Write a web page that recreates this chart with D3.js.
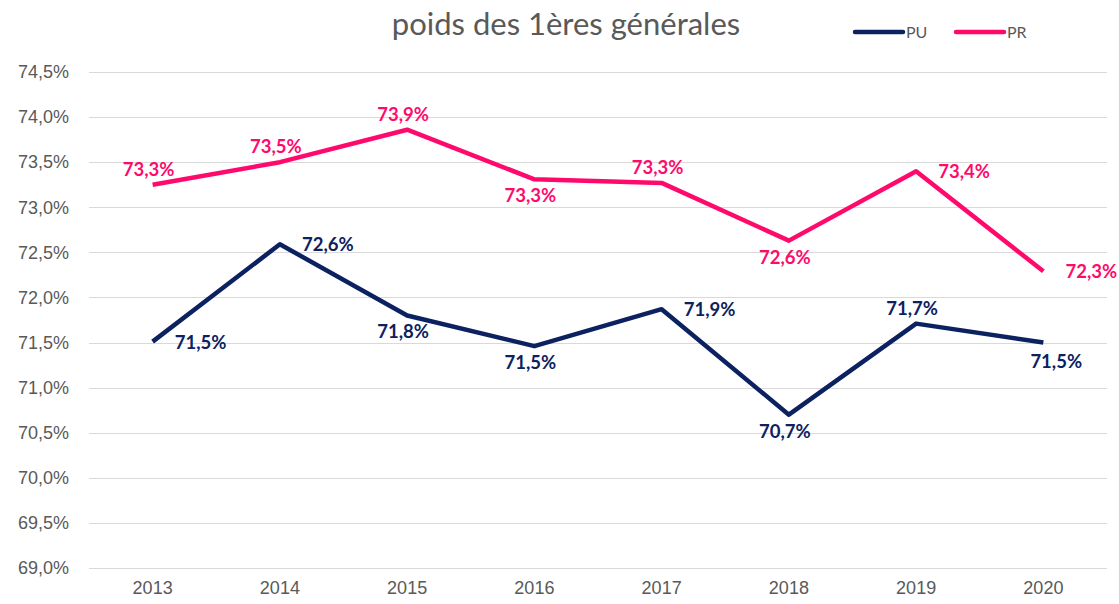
<!DOCTYPE html>
<html>
<head>
<meta charset="utf-8">
<script src="https://cdn.jsdelivr.net/npm/d3@7"></script>
<style>
body { margin: 0; background: #fff; }
svg { font-family: Lato, "Open Sans", sans-serif; }
</style>
</head>
<body>
<script>
//chart data
var years = ["2013", "2014", "2015", "2016", "2017", "2018", "2019", "2020"];
var puValues = [71.51, 72.59, 71.80, 71.46, 71.87, 70.70, 71.71, 71.50];
var prValues = [73.25, 73.50, 73.86, 73.31, 73.27, 72.63, 73.40, 72.29];
var puLabels = ["71,5%", "72,6%", "71,8%", "71,5%", "71,9%", "70,7%", "71,7%", "71,5%"];
var prLabels = ["73,3%", "73,5%", "73,9%", "73,3%", "73,3%", "72,6%", "73,4%", "72,3%"];
var yTicks = [69, 69.5, 70, 70.5, 71, 71.5, 72, 72.5, 73, 73.5, 74, 74.5];

//where each data label sits relative to its point
var puPlace = ["right", "right", "below", "below", "right", "below", "above", "belowright"];
var prPlace = ["above", "above", "above", "below", "above", "below", "right", "right"];

window.onload = drawChart();

function drawChart() {
    var width = 1119,
        height = 604;
    var margin = {top: 72, right: 12, bottom: 36, left: 89};

    var svg = d3.select("body")
        .append("svg")
        .attr("width", width)
        .attr("height", height);

    var x = d3.scaleBand()
        .domain(years)
        .range([margin.left, width - margin.right]);

    var y = d3.scaleLinear()
        .domain([69, 74.5])
        .range([height - margin.bottom, margin.top]);

    //gridlines
    svg.selectAll(".grid")
        .data(yTicks)
        .enter()
        .append("line")
        .attr("x1", margin.left)
        .attr("x2", width - margin.right)
        .attr("y1", function(d){ return Math.round(y(d)) + 0.5; })
        .attr("y2", function(d){ return Math.round(y(d)) + 0.5; })
        .attr("stroke", "#d9d9d9")
        .attr("stroke-width", 1);

    //y axis labels
    var fmt = function(d){ return d.toFixed(1).replace(".", ",") + "%"; };
    var yAxis = d3.axisLeft(y).tickValues(yTicks).tickFormat(fmt).tickSize(0).tickPadding(20);
    var gy = svg.append("g")
        .attr("transform", "translate(" + margin.left + ",0)")
        .call(yAxis);
    gy.select(".domain").remove();
    gy.selectAll("text")
        .attr("fill", "#595959")
        .style("font-size", "18px");

    //x axis labels
    var xAxis = d3.axisBottom(x).tickSize(0).tickPadding(13);
    var gx = svg.append("g")
        .attr("transform", "translate(0," + (height - margin.bottom) + ")")
        .call(xAxis);
    gx.select(".domain").remove();
    gx.selectAll("text")
        .attr("fill", "#595959")
        .style("font-size", "18px");

    var cx = function(i){ return x(years[i]) + x.bandwidth() / 2; };

    var series = [
        {name: "PU", values: puValues, labels: puLabels, place: puPlace, color: "#0c2160"},
        {name: "PR", values: prValues, labels: prLabels, place: prPlace, color: "#ff0a6c"}
    ];

    var line = d3.line()
        .x(function(d, i){ return cx(i); })
        .y(function(d){ return y(d); });

    series.forEach(function(s) {
        svg.append("path")
            .datum(s.values)
            .attr("fill", "none")
            .attr("stroke", s.color)
            .attr("stroke-width", 4.5)
            .attr("stroke-linejoin", "round")
            .attr("d", line);

        svg.selectAll(".lbl-" + s.name)
            .data(s.values)
            .enter()
            .append("text")
            .attr("class", "lbl-" + s.name)
            .attr("x", function(d, i){
                var p = s.place[i];
                if (p == "right") return cx(i) + 48;
                if (p == "belowright") return cx(i) - 13;
                return cx(i) - 4;
            })
            .attr("y", function(d, i){
                var p = s.place[i];
                if (p == "above") return y(d) - 9;
                if (p == "below") return y(d) + 23;
                if (p == "belowright") return y(d) + 25;
                return y(d) + 7;
            })
            .attr("text-anchor", function(d, i){
                return s.place[i] == "belowright" ? "start" : "middle";
            })
            .attr("fill", s.color)
            .style("font-size", "18.5px")
            .style("font-weight", "bold")
            .text(function(d, i){ return s.labels[i]; });
    });

    //title
    svg.append("text")
        .attr("x", 566)
        .attr("y", 35)
        .attr("text-anchor", "middle")
        .attr("fill", "#595959")
        .style("font-size", "31px")
        .text("poids des 1ères générales");

    //legend
    var legendX = [855, 956];
    series.forEach(function(s, i) {
        svg.append("line")
            .attr("x1", legendX[i])
            .attr("x2", legendX[i] + 48)
            .attr("y1", 32)
            .attr("y2", 32)
            .attr("stroke", s.color)
            .attr("stroke-width", 4.5)
            .attr("stroke-linecap", "round");
        svg.append("text")
            .attr("x", legendX[i] + 51)
            .attr("y", 38)
            .attr("fill", "#595959")
            .style("font-size", "16px")
            .text(s.name);
    });
}
</script>
</body>
</html>
